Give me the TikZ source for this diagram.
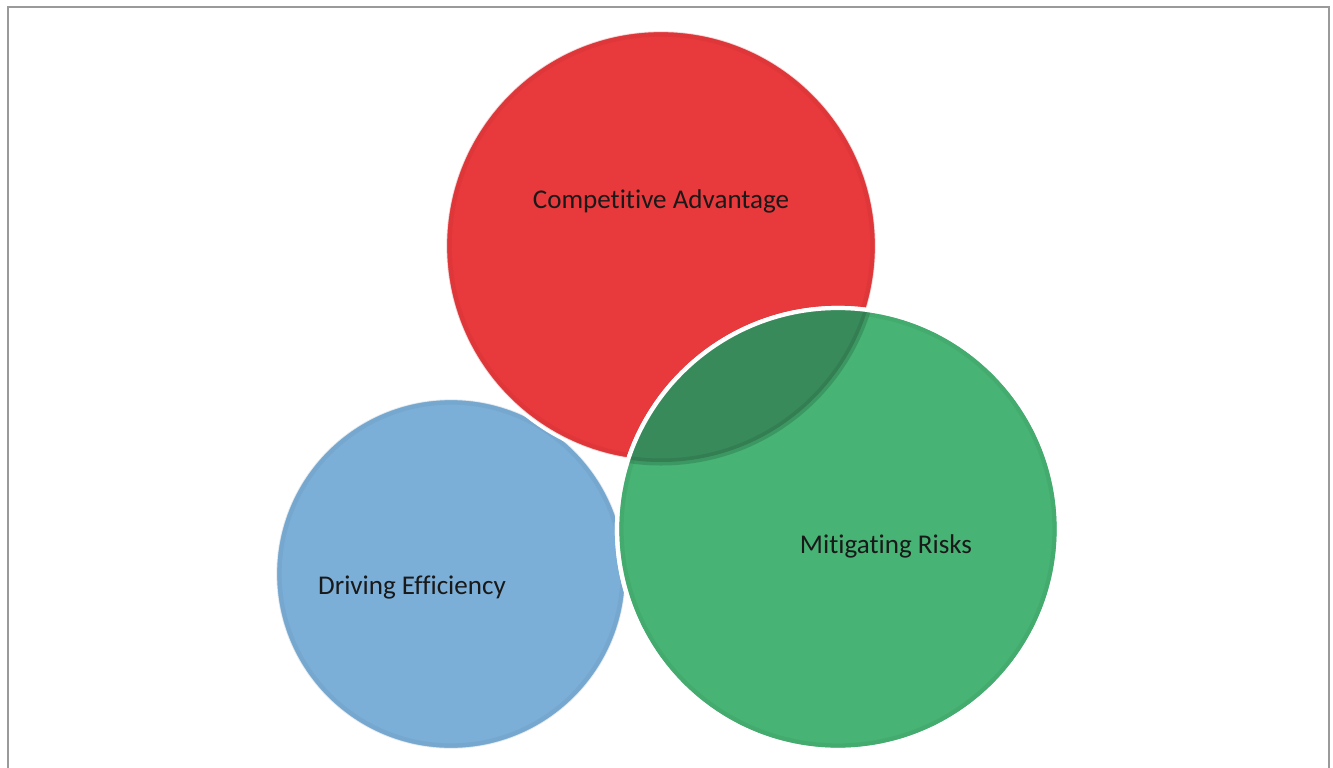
\documentclass[tikz,border=0pt]{standalone}
\usepackage{fontspec}
\setmainfont{Carlito}[Ligatures=NoCommon]
\usepackage{tikz}

\definecolor{vennred}{HTML}{E8393C}
\definecolor{vennblue}{HTML}{7BAFD8}
\definecolor{venngreen}{HTML}{47B374}
\definecolor{venndark}{HTML}{388A5A}
\definecolor{framegray}{HTML}{9A9A9A}

\begin{document}
\begin{tikzpicture}[
    venn/.style={draw=white, line width=1.2pt},
    rim/.style={line width=1.5pt, opacity=0.2},
    caption/.style={font=\fontsize{7.7}{9}\selectfont, text=black!90}
]
    \useasboundingbox (0,0) rectangle (13.33,7.67);
    \fill[white] (0,0) rectangle (13.33,7.67);

    % open frame
    \draw[framegray, line width=0.5pt] (0.08,-0.1) -- (0.08,7.60) -- (13.29,7.60) -- (13.29,-0.1);

    % circles
    \fill[vennblue, venn] (4.51,1.93) circle (1.76);
    \draw[vennblue!80!black, rim] (4.51,1.93) circle (1.72);

    \fill[vennred, venn] (6.61,5.21) circle (2.16);
    \draw[vennred!80!black, rim] (6.61,5.21) circle (2.12);

    \fill[venngreen, venn] (8.38,2.38) circle (2.21);
    \draw[venngreen!80!black, rim] (8.38,2.38) circle (2.17);

    % overlap of red and green
    \begin{scope}
        \clip (8.38,2.38) circle (2.21);
        \fill[venndark] (6.61,5.21) circle (2.16);
        \draw[venndark!75!black, line width=2pt, opacity=0.35] (6.61,5.21) circle (2.16);
    \end{scope}
    \draw[white, line width=1.2pt] (8.38,2.38) circle (2.21);

    % labels
    \node[caption] (advantage) at (6.61,5.66) {Competitive Advantage};
    \node[caption] (efficiency) at (4.12,1.79) {Driving Efficiency};
    \node[caption] (risks) at (8.86,2.21) {Mitigating Risks};
\end{tikzpicture}
\end{document}
